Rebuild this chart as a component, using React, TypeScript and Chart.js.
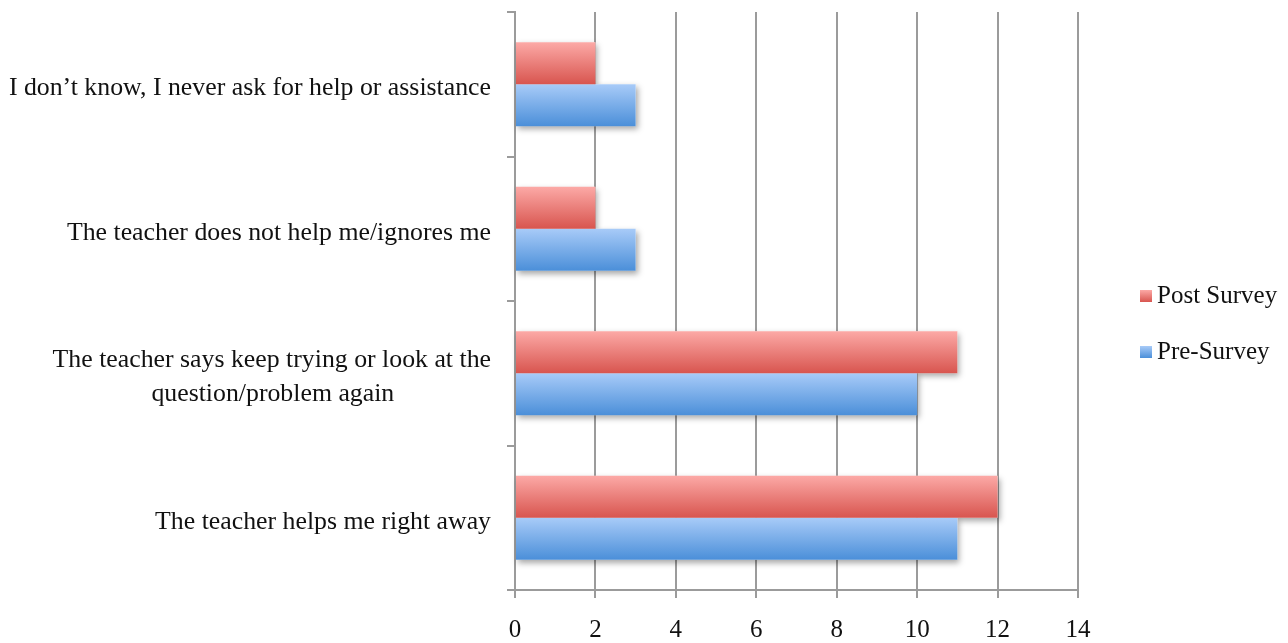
import React, { useEffect, useRef } from "react";
import { Chart, registerables } from "chart.js";

Chart.register(...registerables);

// Survey responses: "What does your teacher do when you ask for help?"
const categories: (string | string[])[] = [
  "I don’t know, I never ask for help or assistance",
  "The teacher does not help me/ignores me",
  ["The teacher says keep trying or look at the", "question/problem again"],
  "The teacher helps me right away",
];
const postSurvey = [2, 2, 11, 12];
const preSurvey = [3, 3, 10, 11];
const seriesLabels = ["Post Survey", "Pre-Survey"];
const xMin = 0;
const xMax = 14;
const xStep = 2;

const FONT_FAMILY = '"Liberation Serif", "Times New Roman", serif';
const LABEL_SIZE = 25.8;
const TICK_SIZE = 25;
const LEGEND_SIZE = 25;
const GRID = "#9b9b9b";
const CATEGORY_PCT = 0.58;

const RED = { top: "#fca9a6", bottom: "#d8554f" };
const BLUE = { top: "#a8cbf8", bottom: "#4b8fd9" };

// Pad shorter lines of a multi-line label with trailing spaces so they sit
// centred under the longest line while the block stays right-aligned.
function centreLines(label: string | string[]): string | string[] {
  if (!Array.isArray(label)) return label;
  const c = document.createElement("canvas").getContext("2d");
  if (!c) return label;
  c.font = `${LABEL_SIZE}px ${FONT_FAMILY}`;
  const widths = label.map((l) => c.measureText(l).width);
  const maxW = Math.max(...widths);
  const space = c.measureText(" ").width || 6;
  return label.map((l, i) => {
    const n = Math.round((maxW - widths[i]) / 2 / space);
    return l + " ".repeat(n);
  });
}

function barGradient(colors: { top: string; bottom: string }) {
  return (ctx: any) => {
    const chart = ctx.chart;
    const ys = chart.scales && chart.scales.y;
    if (ctx.type !== "data" || !ys || !ys.height) return colors.bottom;
    const center = ys.getPixelForValue(ctx.dataIndex);
    const band = ys.height / categories.length;
    const thick = (band * CATEGORY_PCT) / 2;
    const y0 = ctx.datasetIndex === 0 ? center - thick : center;
    const g = chart.ctx.createLinearGradient(0, y0, 0, y0 + thick);
    g.addColorStop(0, colors.top);
    g.addColorStop(1, colors.bottom);
    return g;
  };
}

// Soft drop shadow painted underneath every bar before the bars themselves.
const barShadow = {
  id: "barShadow",
  beforeDatasetsDraw(chart: any) {
    const ctx = chart.ctx;
    ctx.save();
    ctx.shadowColor = "rgba(0,0,0,0.35)";
    ctx.shadowBlur = 6;
    ctx.shadowOffsetX = 2;
    ctx.shadowOffsetY = 3;
    ctx.fillStyle = "#ffffff";
    chart.data.datasets.forEach((_: any, di: number) => {
      const meta = chart.getDatasetMeta(di);
      meta.data.forEach((el: any) => {
        const { x, y, base, height } = el.getProps(["x", "y", "base", "height"], true);
        const left = Math.min(x, base);
        const w = Math.abs(x - base);
        ctx.fillRect(left, y - height / 2, w, height);
      });
    });
    ctx.restore();
  },
};

// Legend on the right: gradient swatch followed by the series name.
const sideLegend = {
  id: "sideLegend",
  afterDraw(chart: any) {
    const ctx = chart.ctx;
    const area = chart.chartArea;
    const x = area.right + 62;
    const ys = [296, 352];
    const palettes = [RED, BLUE];
    ctx.save();
    ctx.font = `${LEGEND_SIZE}px ${FONT_FAMILY}`;
    ctx.textBaseline = "middle";
    chart.data.datasets.forEach((ds: any, i: number) => {
      const cy = ys[i];
      const g = ctx.createLinearGradient(0, cy - 6, 0, cy + 6);
      g.addColorStop(0, palettes[i].top);
      g.addColorStop(1, palettes[i].bottom);
      ctx.fillStyle = g;
      ctx.fillRect(x, cy - 6, 12, 12);
      ctx.fillStyle = "#111";
      ctx.fillText(ds.label, x + 17, cy);
    });
    ctx.restore();
  },
};

export default function App() {
  const canvasRef = useRef<HTMLCanvasElement | null>(null);

  useEffect(() => {
    const canvas = canvasRef.current;
    if (!canvas) return;
    const chart = new Chart(canvas, {
      type: "bar",
      data: {
        labels: categories.map(centreLines),
        datasets: [
          {
            label: seriesLabels[0],
            data: postSurvey,
            backgroundColor: barGradient(RED),
            borderWidth: 0,
          },
          {
            label: seriesLabels[1],
            data: preSurvey,
            backgroundColor: barGradient(BLUE),
            borderWidth: 0,
          },
        ],
      },
      options: {
        indexAxis: "y",
        responsive: true,
        maintainAspectRatio: false,
        animation: false,
        datasets: {
          bar: { categoryPercentage: CATEGORY_PCT, barPercentage: 1 },
        },
        layout: { padding: { top: 12, right: 210, bottom: 0, left: 0 } },
        plugins: {
          legend: { display: false },
          tooltip: { enabled: false },
        },
        scales: {
          x: {
            min: xMin,
            max: xMax,
            ticks: {
              stepSize: xStep,
              color: "#111",
              padding: 20,
              font: { family: FONT_FAMILY, size: TICK_SIZE, lineHeight: 1 },
            },
            grid: { color: GRID, lineWidth: 2, tickLength: 8 },
            border: { color: GRID, width: 2 },
            afterFit: (s: any) => {
              s.height = 53;
            },
          },
          y: {
            ticks: {
              color: "#111",
              padding: 16,
              labelOffset: 4,
              font: { family: FONT_FAMILY, size: LABEL_SIZE, lineHeight: 1.35 },
            },
            grid: {
              offset: true,
              drawOnChartArea: false,
              color: GRID,
              lineWidth: 2,
              tickLength: 8,
            },
            border: { color: GRID, width: 2 },
            afterFit: (s: any) => {
              s.width = 515;
              s.paddingTop = 0;
              s.paddingBottom = 0;
            },
          },
        },
      },
      plugins: [barShadow, sideLegend],
    });
    return () => chart.destroy();
  }, []);

  return (
    <div
      style={{
        position: "fixed",
        left: 0,
        top: 0,
        width: 1288,
        height: 643,
        background: "#ffffff",
      }}
    >
      <canvas ref={canvasRef} />
    </div>
  );
}
